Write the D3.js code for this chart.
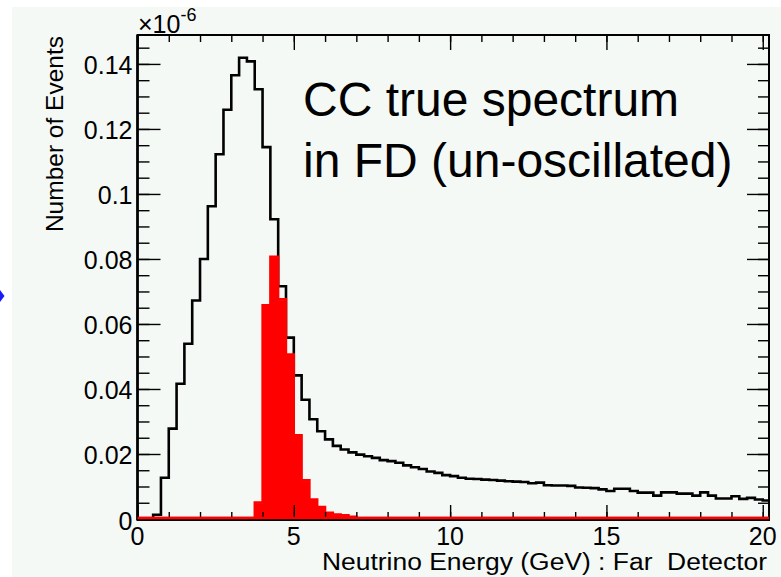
<!DOCTYPE html>
<html>
<head>
<meta charset="utf-8">
<script src="https://cdn.jsdelivr.net/npm/d3@7"></script>
<style>
  html, body { margin: 0; padding: 0; background: #ffffff; }
  svg { display: block; }
  text { font-family: "Liberation Sans", Arial, sans-serif; fill: #000; }
</style>
</head>
<body>
<svg id="chart" width="781" height="577"></svg>
<script>
// ---- data (values in units of 1e-6 events) ----
const binWidth = 0.25;           // GeV
const binLowEdges = d3.range(0, 81).map(i => i * binWidth);
const allEvents = [
  0, 0, 0.0013, 0.0127, 0.0278, 0.0416, 0.0539, 0.0672, 0.0800, 0.0962,
  0.1122, 0.1259, 0.1365, 0.1419, 0.1408, 0.1322, 0.1144, 0.0922, 0.0716, 0.0558,
  0.0442, 0.0367, 0.0307, 0.0270, 0.0245, 0.0225, 0.0214, 0.0205, 0.0198, 0.0193,
  0.0188, 0.0181, 0.0178, 0.0173, 0.0165, 0.0159, 0.0154, 0.0146, 0.0142, 0.0135,
  0.0132, 0.0127, 0.0124, 0.0123, 0.0121, 0.0120, 0.0118, 0.0116, 0.0115, 0.0114,
  0.0110, 0.0112, 0.0104, 0.0103, 0.0103, 0.0102, 0.0097, 0.0096, 0.0095, 0.0091,
  0.0086, 0.0093, 0.0093, 0.0086, 0.0081, 0.0081, 0.0072, 0.0082, 0.0082, 0.0078,
  0.0078, 0.0072, 0.0082, 0.0072, 0.0063, 0.0063, 0.0070, 0.0062, 0.0065, 0.0060,
  0.0057
];
const selectedEvents = [
  0, 0, 0, 0, 0, 0, 0, 0, 0, 0,
  0, 0, 0, 0, 0, 0.0048, 0.0655, 0.0804, 0.0673, 0.0503,
  0.0255, 0.0116, 0.0057, 0.0034, 0.0016, 0.0011, 0.0009, 0.0004, 0, 0,
  0, 0, 0, 0, 0, 0, 0, 0, 0, 0,
  0, 0, 0, 0, 0, 0, 0, 0, 0, 0,
  0, 0, 0, 0, 0, 0, 0, 0, 0, 0,
  0, 0, 0, 0, 0, 0, 0, 0, 0, 0,
  0, 0, 0, 0, 0, 0, 0, 0, 0, 0,
  0
];
const xTickValues = [0, 5, 10, 15, 20];
const xMinorTicks = d3.range(0, 21, 1);
const yTickValues = [0, 0.02, 0.04, 0.06, 0.08, 0.1, 0.12, 0.14];
const yMinorTicks = d3.range(0, 0.1475, 0.005);
const xTitle = "Neutrino Energy (GeV) : Far  Detector";
const yTitle = "Number of Events";
const annotation = ["CC true spectrum", "in FD (un-oscillated)"];

// ---- layout ----
const svg = d3.select("#chart");
const L = 137.5, R = 769, T = 35, B = 519;
const x = d3.scaleLinear().domain([0, 20.2]).range([L, R]);
const y = d3.scaleLinear().domain([0, 0.1489]).range([B, T]);

svg.append("rect").attr("x", 0).attr("y", 0).attr("width", 781).attr("height", 577).attr("fill", "#ffffff");
svg.append("rect").attr("x", 12).attr("y", 7).attr("width", 769).attr("height", 570).attr("fill", "#f4f9f6");

// small blue arrow at left edge
svg.append("path").attr("d", "M0,290 L4.5,296 L0,302 Z").attr("fill", "#1a1aff");

svg.append("defs").append("clipPath").attr("id", "plotclip")
  .append("rect").attr("x", L).attr("y", T).attr("width", R - L).attr("height", B - T + 2);

const pts = (vals) => {
  const p = vals.map((v, i) => [binLowEdges[i], v]);
  p.push([binLowEdges[vals.length - 1] + binWidth, vals[vals.length - 1]]);
  return p;
};

const plot = svg.append("g").attr("clip-path", "url(#plotclip)");

// black histogram (all events)
const line = d3.line().x(d => x(d[0])).y(d => y(d[1])).curve(d3.curveStepAfter);
plot.append("path").datum(pts(allEvents))
  .attr("d", line).attr("fill", "none").attr("stroke", "#000").attr("stroke-width", 2.6);

// red filled histogram (selected)
const area = d3.area().x(d => x(d[0])).y0(y(0)).y1(d => y(d[1])).curve(d3.curveStepAfter);
plot.append("path").datum(pts(selectedEvents))
  .attr("d", area).attr("fill", "#ff0000").attr("stroke", "#ff0000").attr("stroke-width", 1);
plot.append("path").datum(pts(selectedEvents))
  .attr("d", line).attr("fill", "none").attr("stroke", "#ff0000").attr("stroke-width", 2.4)
  .attr("transform", "translate(0,-1)");

// ---- axes (ticks) ----
const tickStyle = g => { g.select(".domain").remove(); g.selectAll("line").attr("stroke", "#000").attr("stroke-width", 1.4); g.selectAll("text").remove(); };

// left
svg.append("g").attr("transform", `translate(${L},0)`)
  .call(d3.axisRight(y).tickValues(yMinorTicks).tickSize(12)).call(tickStyle);
svg.append("g").attr("transform", `translate(${L},0)`)
  .call(d3.axisRight(y).tickValues(yTickValues).tickSize(23)).call(tickStyle);
// right
svg.append("g").attr("transform", `translate(${R},0)`)
  .call(d3.axisLeft(y).tickValues(yMinorTicks).tickSize(11)).call(tickStyle);
svg.append("g").attr("transform", `translate(${R},0)`)
  .call(d3.axisLeft(y).tickValues(yTickValues).tickSize(22)).call(tickStyle);
// bottom
svg.append("g").attr("transform", `translate(0,${B})`)
  .call(d3.axisTop(x).tickValues(xMinorTicks).tickSize(7)).call(tickStyle);
svg.append("g").attr("transform", `translate(0,${B})`)
  .call(d3.axisTop(x).tickValues(xTickValues).tickSize(14)).call(tickStyle);
// top
svg.append("g").attr("transform", `translate(0,${T})`)
  .call(d3.axisBottom(x).tickValues(xMinorTicks).tickSize(7)).call(tickStyle);
svg.append("g").attr("transform", `translate(0,${T})`)
  .call(d3.axisBottom(x).tickValues(xTickValues).tickSize(15)).call(tickStyle);

// frame
svg.append("rect").attr("x", L).attr("y", T).attr("width", R - L).attr("height", B - T + 1)
  .attr("fill", "none").attr("stroke", "#000").attr("stroke-width", 2);
svg.append("line").attr("x1", L).attr("x2", L).attr("y1", T).attr("y2", B + 1)
  .attr("stroke", "#000").attr("stroke-width", 2.6);

// redraw zero red line over bottom
svg.append("line").attr("x1", x(0)).attr("x2", R).attr("y1", y(0) - 1).attr("y2", y(0) - 1)
  .attr("stroke", "#ff0000").attr("stroke-width", 2.4);

// tick labels
svg.append("g").selectAll("text").data(yTickValues).join("text")
  .attr("x", L - 5).attr("y", d => y(d) + 10.5)
  .attr("text-anchor", "end").attr("font-size", 25)
  .text(d => d3.format("~g")(d));
svg.append("g").selectAll("text").data(xTickValues).join("text")
  .attr("x", d => x(d)).attr("y", 545)
  .attr("text-anchor", "middle").attr("font-size", 25)
  .text(d => d3.format("~g")(d));

// exponent
const ex = svg.append("text").attr("x", 138).attr("y", 33).attr("font-size", 25);
ex.append("tspan").text("\u00d710");
ex.append("tspan").attr("dy", -12).attr("font-size", 18).text("-6");

// titles
svg.append("text").attr("x", 767).attr("y", 570).attr("text-anchor", "end")
  .attr("font-size", 23.5).attr("textLength", 445).attr("lengthAdjust", "spacingAndGlyphs")
  .style("white-space", "pre").text(xTitle);
svg.append("text").attr("transform", "translate(63,36) rotate(-90)")
  .attr("text-anchor", "end").attr("font-size", 24.5).text(yTitle);

// annotation
svg.append("g").selectAll("text").data(annotation).join("text")
  .attr("x", 303).attr("y", (d, i) => 116 + i * 61)
  .attr("font-size", 48).text(d => d);
</script>
</body>
</html>
